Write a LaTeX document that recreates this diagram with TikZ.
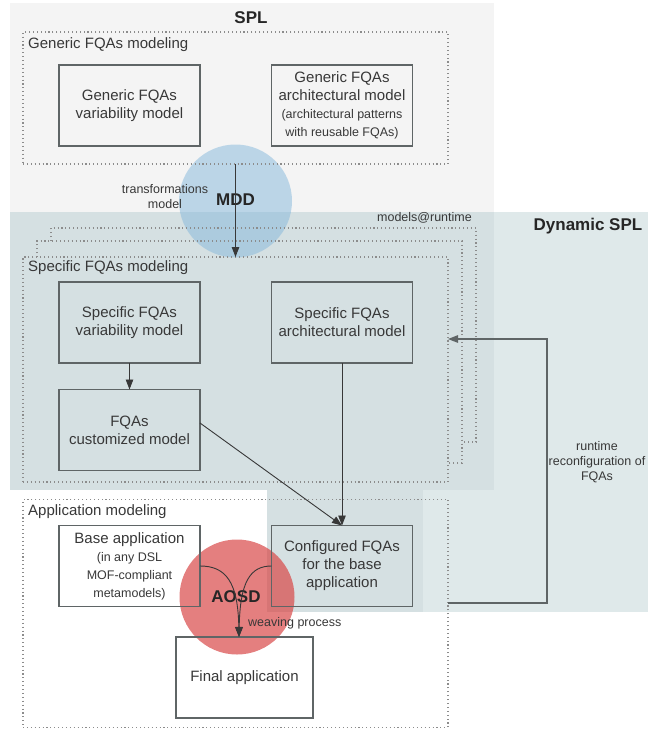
\documentclass[tikz,border=0pt]{standalone}
\usepackage{fontspec}
\setmainfont{Liberation Sans}
\usetikzlibrary{arrows.meta}
\definecolor{splgray}{HTML}{F4F4F4}
\definecolor{dynlight}{HTML}{DFE9EA}
\definecolor{overlapc}{HTML}{D5E0E2}
\definecolor{boxline}{HTML}{5F6566}
\definecolor{txt}{HTML}{383838}
\definecolor{dotc}{HTML}{8C8C8C}
\definecolor{mddblue}{HTML}{84B8DC}
\definecolor{aosdred}{HTML}{D84848}
\newcommand\fbig{\fontsize{15}{18}\selectfont}
\newcommand\fsml{\fontsize{12.5}{15}\selectfont}
\newcommand\fttl{\fontsize{17}{20}\selectfont\bfseries}
\tikzset{
  modelbox/.style={draw=boxline, line width=1.2pt, minimum width=141pt, minimum height=81pt,
    inner sep=0pt, outer sep=0pt, align=center, text=txt, font=\fbig},
  dotframe/.style={draw=dotc, line width=1.1pt, dash pattern=on 1.1pt off 2.8pt, inner sep=0pt, outer sep=0pt},
  dotline/.style={draw=dotc, line width=1.1pt, dash pattern=on 1.1pt off 2.8pt},
  arr/.style={draw=txt, line width=0.9pt, -{Triangle[length=10pt,width=7.5pt]}},
  lbl/.style={text=txt, inner sep=0pt, font=\fsml, align=center},
  grplbl/.style={text=txt, inner sep=0pt, font=\fbig, anchor=west},
  ttl/.style={text=black!85, inner sep=0pt, font=\fttl}
}
\begin{document}
\begin{tikzpicture}[x=1pt,y=-1pt]
\useasboundingbox (0,0) rectangle (648,731);
% backgrounds
\fill[splgray] (10,3) rectangle (494,212);
\fill[dynlight] (267,212) rectangle (648,612);
\fill[overlapc] (10,212) rectangle (494,490);
\fill[overlapc] (267,490) rectangle (423,612);
% circles
\node[circle, fill=mddblue, fill opacity=0.5, minimum size=113pt, inner sep=0pt] (mdd) at (235.5,201) {};
\node[circle, fill=aosdred, fill opacity=0.7, minimum size=115pt, inner sep=0pt] (aosd) at (237,597) {};
% dotted frames
\node[dotframe, minimum width=425pt, minimum height=132pt] (genmod) at (235.5,98) {};
\draw[dotline] (51,241) -- (51,228) -- (476,228) -- (476,442) -- (462,442);
\draw[dotline] (37,257) -- (37,241) -- (462,241) -- (462,463) -- (448,463);
\node[dotframe, minimum width=425pt, minimum height=225pt] (specmod) at (235.5,369.5) {};
\node[dotframe, minimum width=425pt, minimum height=228pt] (appmod) at (235.5,613.5) {};
% group labels and titles
\node[ttl] (spl) at (251,18) {SPL};
\node[ttl] (dspl) at (588,226) {Dynamic SPL};
\node[grplbl] (genlbl) at (28,45) {Generic FQAs modeling};
\node[grplbl] (speclbl) at (28,268) {Specific FQAs modeling};
\node[grplbl] (applbl) at (28,512) {Application modeling};
\node[lbl, anchor=east] (mrt) at (472,218) {models@runtime};
% boxes
\node[modelbox] (gvar) at (129.5,105.5) {Generic FQAs\\variability model};
\node[modelbox] (garch) at (342,105.5) {Generic FQAs\\architectural model\\{\fsml (architectural patterns}\\{\fsml with reusable FQAs)}};
\node[modelbox] (svar) at (129.5,322.5) {Specific FQAs\\variability model};
\node[modelbox] (sarch) at (342,322.5) {Specific FQAs\\architectural model};
\node[modelbox] (cust) at (129.5,430) {FQAs\\customized model};
\node[modelbox] (base) at (129.5,566) {Base application\\{\fsml (in any DSL}\\{\fsml MOF-compliant}\\{\fsml metamodels)}};
\node[modelbox] (conf) at (342,566) {Configured FQAs\\for the base\\application};
\node[modelbox, minimum width=137pt] (final) at (244.5,677.5) {Final application};
% circle labels
\node[ttl] (mddlbl) at (235.5,200) {MDD};
\node[ttl] (aosdlbl) at (236,597) {AOSD};
\node[lbl] (trlbl) at (165,197) {transformations\\model};
\node[lbl, anchor=west] (wvlbl) at (248,623) {weaving process};
\node[lbl] (rtlbl) at (597,462) {runtime\\reconfiguration of\\FQAs};
% connectors
\draw[arr] (mdd.center |- genmod.south) -- (mdd.center |- specmod.north);
\draw[arr] (svar.south) -- (cust.north);
\draw[arr] (sarch.south) -- (conf.north);
\draw[arr] ([yshift=7pt]cust.east) -- (conf.north);
\coordinate (wv) at ([xshift=-5.5pt]final.north);
\draw[arr] (base.east) .. controls (226,566) and (238,582) .. (wv);
\draw[arr] (conf.west) .. controls (250,566) and (240,582) .. (wv);
\draw[arr, draw=boxline, line width=1.3pt] ([yshift=10.5pt]appmod.east) -- ++(99,0) |- ([yshift=30.5pt]specmod.east);
\end{tikzpicture}
\end{document}
